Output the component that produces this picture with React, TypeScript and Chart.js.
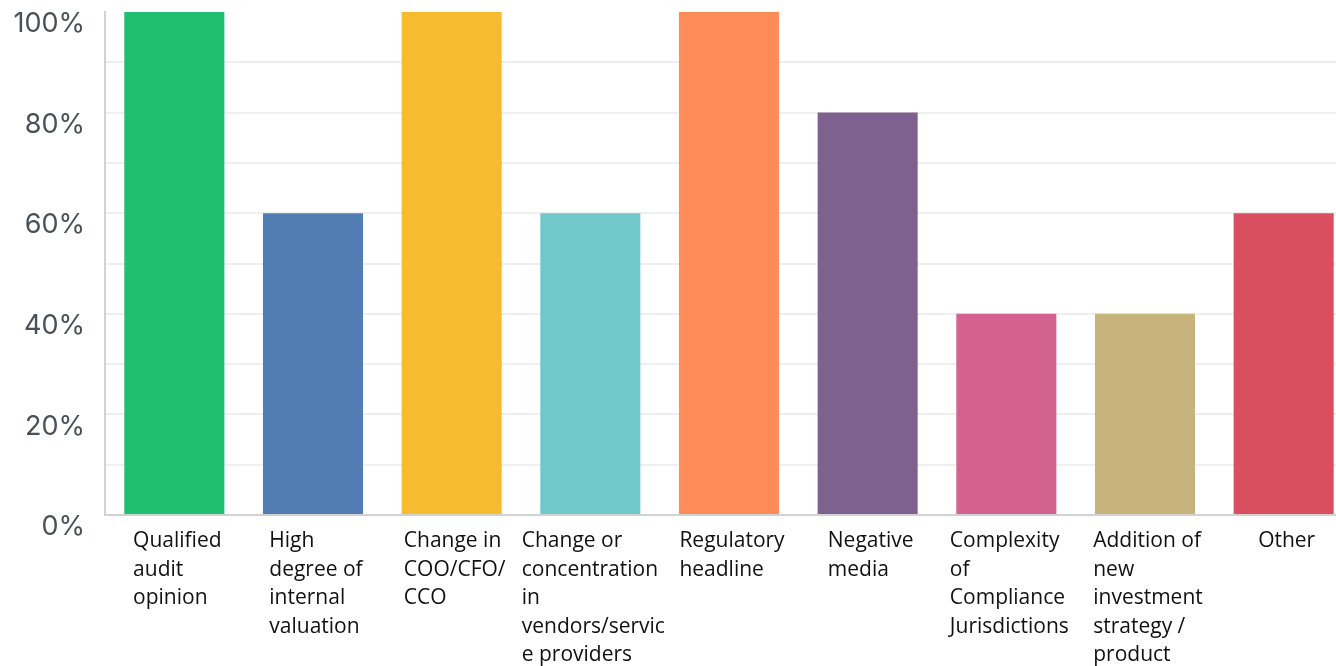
import React, { useEffect, useRef } from "react";
import { Chart, registerables } from "chart.js";

Chart.register(...registerables);

const categories: string[][] = [
  ["Qualified", "audit", "opinion"],
  ["High", "degree of", "internal", "valuation"],
  ["Change in", "COO/CFO/", "CCO"],
  ["Change or", "concentration", "in", "vendors/servic", "e providers"],
  ["Regulatory", "headline"],
  ["Negative", "media"],
  ["Complexity", "of", "Compliance", "Jurisdictions"],
  ["Addition of", "new", "investment", "strategy /", "product"],
  ["Other"],
];

const values: number[] = [100, 60, 100, 60, 100, 80, 40, 40, 60];

const barColors: string[] = [
  "#20bf70",
  "#527db3",
  "#f7bb2f",
  "#70c8cb",
  "#fe8c59",
  "#7e618e",
  "#d36290",
  "#c7b47c",
  "#d94f5f",
];

const yTickValues: number[] = [0, 20, 40, 60, 80, 100];

const LABEL_FONT = '21px "Open Sans"';
const LABEL_LINE = 28.5;
const LABEL_FIRST_BASELINE = 547;
const LABEL_SHIFT = 3;

const xLabelPlugin = {
  id: "xLabelPlugin",
  afterDraw(chart: any) {
    const ctx = chart.ctx;
    const xScale = chart.scales.x;
    ctx.save();
    ctx.font = LABEL_FONT;
    ctx.fillStyle = "#111111";
    ctx.textAlign = "left";
    ctx.textBaseline = "alphabetic";
    categories.forEach((lines, i) => {
      const cx = xScale.getPixelForValue(i);
      let maxW = 0;
      lines.forEach((l) => {
        maxW = Math.max(maxW, ctx.measureText(l).width);
      });
      const left = cx - maxW / 2 + LABEL_SHIFT;
      lines.forEach((l, j) => {
        ctx.fillText(l, left, LABEL_FIRST_BASELINE + j * LABEL_LINE);
      });
    });
    ctx.restore();
  },
};

export default function App() {
  const canvasRef = useRef<HTMLCanvasElement | null>(null);

  useEffect(() => {
    if (!canvasRef.current) return;
    const chart = new Chart(canvasRef.current, {
      type: "bar",
      data: {
        labels: categories.map((c) => c.join(" ")),
        datasets: [
          {
            data: values,
            backgroundColor: barColors,
            borderWidth: 0,
            categoryPercentage: 1,
            barPercentage: 0.7214,
          },
        ],
      },
      options: {
        animation: false,
        responsive: true,
        maintainAspectRatio: false,
        layout: { padding: { top: 12, left: 0, right: 0, bottom: 0 } },
        plugins: {
          legend: { display: false },
          tooltip: { enabled: false },
        },
        scales: {
          x: {
            grid: { display: false, drawTicks: false },
            border: { display: true, color: "#d2d2d2", width: 2 },
            ticks: { display: false },
            afterFit: (scale: any) => {
              scale.height = 151;
              scale.paddingLeft = 0;
              scale.paddingRight = 0;
            },
          },
          y: {
            min: 0,
            max: 100,
            grid: {
              drawTicks: false,
              lineWidth: 2,
              color: (ctx: any) =>
                ctx.tick && (ctx.tick.value === 100 || ctx.tick.value === 0)
                  ? "rgba(0,0,0,0)"
                  : "#efefef",
            },
            border: { display: true, color: "#d2d2d2", width: 2 },
            ticks: {
              stepSize: 10,
              padding: 20,
              labelOffset: 12,
              color: "#4a5059",
              font: { family: "Inter", size: 27 },
              callback: (v: any) =>
                yTickValues.includes(Number(v)) ? `${v}%` : "",
            },
            afterFit: (scale: any) => {
              scale.width = 105;
              scale.paddingTop = 0;
              scale.paddingBottom = 0;
            },
          },
        },
      },
      plugins: [xLabelPlugin],
    });
    return () => chart.destroy();
  }, []);

  return (
    <div
      style={{
        position: "absolute",
        left: 0,
        top: 0,
        width: 1336,
        height: 666,
        overflow: "hidden",
        background: "#ffffff",
      }}
    >
      <div style={{ position: "relative", width: 1353, height: 666 }}>
        <canvas ref={canvasRef} />
      </div>
    </div>
  );
}
